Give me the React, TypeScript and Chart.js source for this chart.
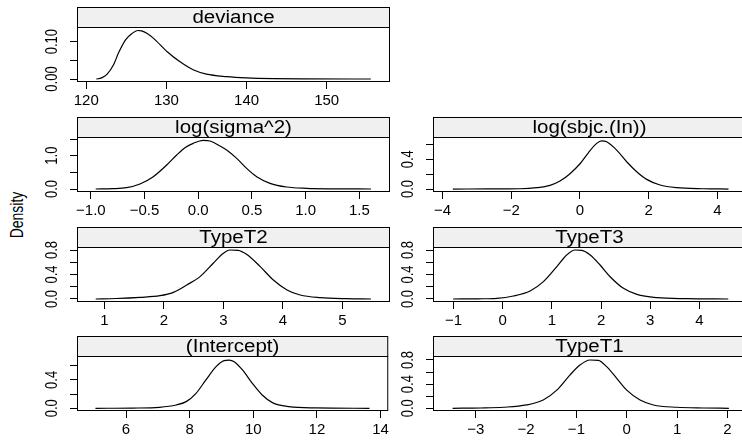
import { useEffect, useRef } from "react";
import { Chart, registerables } from "chart.js";

Chart.register(...registerables);

const FONT = '"Liberation Sans", Arial, Helvetica, sans-serif';

// ---- data ----
const devianceX = [121.25, 121.9, 122.6, 123.4, 124.0, 124.9, 125.7, 126.4, 126.9, 127.6, 128.4, 130.1, 131.7, 133.4, 135.0, 137.5, 140.0, 143.4, 147.0, 155.5];
const devianceY = [0, 0.003, 0.013, 0.038, 0.069, 0.105, 0.122, 0.130, 0.129, 0.122, 0.109, 0.073, 0.046, 0.024, 0.013, 0.0064, 0.003, 0.001, 0.0003, 0];

const logSigmaX = [-0.955, -0.8, -0.667, -0.543, -0.419, -0.294, -0.201, -0.124, -0.047, 0.047, 0.109, 0.202, 0.264, 0.358, 0.45, 0.544, 0.668, 0.823, 1.009, 1.257, 1.608];
const logSigmaY = [0, 0.01, 0.04, 0.15, 0.37, 0.72, 1.02, 1.24, 1.37, 1.46, 1.44, 1.29, 1.17, 0.92, 0.62, 0.37, 0.17, 0.06, 0.02, 0.005, 0];

const logSbjcX = [-3.7, -2.7, -1.746, -1.26, -0.873, -0.582, -0.291, 0, 0.243, 0.485, 0.63, 0.776, 1.067, 1.358, 1.65, 1.94, 2.33, 2.81, 3.59, 4.32];
const logSbjcY = [0, 0.001, 0.004, 0.018, 0.049, 0.107, 0.206, 0.34, 0.488, 0.614, 0.649, 0.636, 0.524, 0.367, 0.233, 0.13, 0.054, 0.018, 0.004, 0];

const typeT2X = [0.855, 1.2, 1.6, 1.936, 2.16, 2.385, 2.608, 2.83, 3.0, 3.11, 3.25, 3.39, 3.62, 3.84, 4.07, 4.29, 4.63, 5.07, 5.48];
const typeT2Y = [0, 0.008, 0.027, 0.054, 0.109, 0.229, 0.365, 0.583, 0.746, 0.8, 0.795, 0.729, 0.528, 0.31, 0.147, 0.065, 0.022, 0.005, 0];

const typeT3X = [-1.01, -0.5, -0.12, 0.216, 0.556, 0.827, 1.1, 1.3, 1.47, 1.61, 1.78, 1.98, 2.185, 2.456, 2.73, 3.14, 3.75, 4.59];
const typeT3Y = [0, 0.003, 0.011, 0.049, 0.131, 0.283, 0.528, 0.718, 0.8, 0.795, 0.718, 0.555, 0.364, 0.174, 0.076, 0.022, 0.005, 0];

const interceptX = [5.04, 6.2, 7.05, 7.575, 7.89, 8.2, 8.51, 8.83, 9.08, 9.24, 9.4, 9.66, 9.97, 10.28, 10.6, 11.12, 11.95, 13.65];
const interceptY = [0, 0.003, 0.014, 0.047, 0.094, 0.211, 0.4, 0.587, 0.671, 0.68, 0.657, 0.54, 0.352, 0.188, 0.08, 0.023, 0.005, 0];

const typeT1X = [-3.46, -2.9, -2.45, -1.99, -1.66, -1.39, -1.13, -0.93, -0.73, -0.565, -0.4, -0.2, 0, 0.265, 0.53, 0.994, 1.52, 2.03];
const typeT1Y = [0, 0.005, 0.017, 0.055, 0.137, 0.3, 0.55, 0.717, 0.8, 0.795, 0.69, 0.497, 0.3, 0.137, 0.055, 0.017, 0.005, 0];

// ---- tick values & labels ----
const devianceXTicks = [120, 130, 140, 150];
const devianceXLabels = ["120", "130", "140", "150"];
const devianceYTicks = [0, 0.05, 0.1];
const devianceYLabels = ["0.00", "", "0.10"];

const logSigmaXTicks = [-1, -0.5, 0, 0.5, 1, 1.5];
const logSigmaXLabels = ["\u22121.0", "\u22120.5", "0.0", "0.5", "1.0", "1.5"];
const logSigmaYTicks = [0, 0.5, 1, 1.5];
const logSigmaYLabels = ["0.0", "", "1.0", ""];

const logSbjcXTicks = [-4, -2, 0, 2, 4];
const logSbjcXLabels = ["\u22124", "\u22122", "0", "2", "4"];
const logSbjcYTicks = [0, 0.2, 0.4, 0.6];
const logSbjcYLabels = ["0.0", "", "0.4", ""];

const typeT2XTicks = [1, 2, 3, 4, 5];
const typeT2XLabels = ["1", "2", "3", "4", "5"];
const typeT3XTicks = [-1, 0, 1, 2, 3, 4];
const typeT3XLabels = ["\u22121", "0", "1", "2", "3", "4"];
const typeYTicks = [0, 0.2, 0.4, 0.6, 0.8];
const typeYLabels = ["0.0", "", "0.4", "", "0.8"];

const interceptXTicks = [6, 8, 10, 12, 14];
const interceptXLabels = ["6", "8", "10", "12", "14"];
const interceptYTicks = [0, 0.2, 0.4, 0.6];
const interceptYLabels = ["0.0", "", "0.4", ""];

const typeT1XTicks = [-3, -2, -1, 0, 1, 2];
const typeT1XLabels = ["\u22123", "\u22122", "\u22121", "0", "1", "2"];

const Y_LABEL = "Density";

// ---- layout ----
const COL_LEFT = [77, 433];
const COL_RIGHT = [390, 746];
const ROW_TOP = [27, 137, 247, 356];
const ROW_BOTTOM = [82, 192, 302, 411];
const STRIP_H = 20;
const Y_AXIS_W = 40;
const X_AXIS_H = 30;

type Panel = {
  title: string;
  col: number;
  row: number;
  x: number[];
  y: number[];
  xRange: [number, number];
  yRange: [number, number];
  xTicks: number[];
  xLabels: string[];
  yTicks: number[];
  yLabels: string[];
};

const PANELS: Panel[] = [
  { title: "deviance", col: 0, row: 0, x: devianceX, y: devianceY, xRange: [118.84, 157.9], yRange: [-0.008, 0.1394], xTicks: devianceXTicks, xLabels: devianceXLabels, yTicks: devianceYTicks, yLabels: devianceYLabels },
  { title: "log(sigma^2)", col: 0, row: 1, x: logSigmaX, y: logSigmaY, xRange: [-1.129, 1.785], yRange: [-0.09, 1.56], xTicks: logSigmaXTicks, xLabels: logSigmaXLabels, yTicks: logSigmaYTicks, yLabels: logSigmaYLabels },
  { title: "log(sbjc.(In))", col: 1, row: 1, x: logSbjcX, y: logSbjcY, xRange: [-4.277, 4.83], yRange: [-0.04, 0.7], xTicks: logSbjcXTicks, xLabels: logSbjcXLabels, yTicks: logSbjcYTicks, yLabels: logSbjcYLabels },
  { title: "TypeT2", col: 0, row: 2, x: typeT2X, y: typeT2Y, xRange: [0.541, 5.8], yRange: [-0.049, 0.849], xTicks: typeT2XTicks, xLabels: typeT2XLabels, yTicks: typeYTicks, yLabels: typeYLabels },
  { title: "TypeT3", col: 1, row: 2, x: typeT3X, y: typeT3Y, xRange: [-1.42, 4.95], yRange: [-0.049, 0.849], xTicks: typeT3XTicks, xLabels: typeT3XLabels, yTicks: typeYTicks, yLabels: typeYLabels },
  { title: "(Intercept)", col: 0, row: 3, x: interceptX, y: interceptY, xRange: [4.46, 14.24], yRange: [-0.038, 0.737], xTicks: interceptXTicks, xLabels: interceptXLabels, yTicks: interceptYTicks, yLabels: interceptYLabels },
  { title: "TypeT1", col: 1, row: 3, x: typeT1X, y: typeT1Y, xRange: [-3.85, 2.37], yRange: [-0.045, 0.866], xTicks: typeT1XTicks, xLabels: typeT1XLabels, yTicks: typeYTicks, yLabels: typeYLabels },
];

function PanelChart({ p, idx }: { p: Panel; idx: number }) {
  const ref = useRef<HTMLCanvasElement | null>(null);
  const plotL = COL_LEFT[p.col];
  const plotR = COL_RIGHT[p.col];
  const plotT = ROW_TOP[p.row];
  const plotB = ROW_BOTTOM[p.row];
  const left = plotL - Y_AXIS_W;
  const top = plotT - STRIP_H - 2;
  const width = plotR - plotL + Y_AXIS_W + 2;
  const height = plotB - plotT + STRIP_H + 2 + X_AXIS_H;

  useEffect(() => {
    if (!ref.current) return;
    const panelPlugin = {
      id: "panelDeco" + idx,
      afterDraw(chart: any) {
        const { ctx, chartArea: a } = chart;
        const st = a.top - STRIP_H;
        ctx.save();
        ctx.fillStyle = "#f0f0f0";
        ctx.fillRect(a.left, st, a.right - a.left, STRIP_H);
        ctx.strokeStyle = "#000";
        ctx.lineWidth = 1;
        ctx.strokeRect(a.left + 0.5, st + 0.5, a.right - a.left - 1, a.bottom - st - 1);
        ctx.beginPath();
        ctx.moveTo(a.left, a.top + 0.5);
        ctx.lineTo(a.right, a.top + 0.5);
        ctx.stroke();
        // strip title
        ctx.save();
        ctx.fillStyle = "#000";
        ctx.font = `18px ${FONT}`;
        ctx.textAlign = "center";
        ctx.textBaseline = "middle";
        ctx.translate((a.left + a.right) / 2, st + STRIP_H / 2 + 1);
        ctx.scale(1.14, 1);
        ctx.fillText(p.title, 0, 0);
        ctx.restore();
        // rotated y tick labels
        const ys = chart.scales.y;
        ctx.fillStyle = "#000";
        ctx.font = `13px ${FONT}`;
        ctx.textAlign = "center";
        ctx.textBaseline = "alphabetic";
        p.yTicks.forEach((v, i) => {
          const lab = p.yLabels[i];
          if (!lab) return;
          const py = ys.getPixelForValue(v);
          ctx.save();
          ctx.translate(a.left - 20, py);
          ctx.rotate(-Math.PI / 2);
          ctx.scale(1, 1.2);
          ctx.fillText(lab, 0, 0);
          ctx.restore();
        });
        ctx.restore();
      },
    };

    const chart = new Chart(ref.current, {
      type: "line",
      data: {
        datasets: [
          {
            data: p.x.map((x, i) => ({ x, y: p.y[i] })),
            borderColor: "#000",
            borderWidth: 1.2,
            pointRadius: 0,
            fill: false,
            cubicInterpolationMode: "monotone",
          },
        ],
      },
      options: {
        animation: false,
        responsive: false,
        events: [],
        layout: { padding: { top: STRIP_H + 2, left: 0, right: 2, bottom: 0 } },
        plugins: {
          legend: { display: false },
          tooltip: { enabled: false },
          title: { display: false },
        },
        scales: {
          x: {
            type: "linear",
            min: p.xRange[0],
            max: p.xRange[1],
            bounds: "data",
            afterBuildTicks: (s: any) => {
              s.ticks = p.xTicks.map((v) => ({ value: v }));
            },
            afterFit: (s: any) => {
              s.height = X_AXIS_H;
            },
            grid: { display: true, drawOnChartArea: false, drawTicks: true, tickLength: 7, color: "#000", lineWidth: 1 },
            border: { display: false },
            ticks: {
              autoSkip: false,
              maxRotation: 0,
              minRotation: 0,
              padding: 3,
              color: "#000",
              font: { family: FONT, size: 15 },
              callback: (_v: any, i: number) => p.xLabels[i],
            },
          },
          y: {
            type: "linear",
            min: p.yRange[0],
            max: p.yRange[1],
            bounds: "data",
            afterBuildTicks: (s: any) => {
              s.ticks = p.yTicks.map((v) => ({ value: v }));
            },
            afterFit: (s: any) => {
              s.width = Y_AXIS_W;
            },
            grid: { display: true, drawOnChartArea: false, drawTicks: true, tickLength: 7, color: "#000", lineWidth: 1 },
            border: { display: false },
            ticks: { display: false },
          },
        },
      },
      plugins: [panelPlugin],
    } as any);
    return () => chart.destroy();
  }, []);

  return (
    <canvas
      ref={ref}
      width={width}
      height={height}
      style={{ position: "absolute", left, top, width, height, display: "block" }}
    />
  );
}

export default function App() {
  return (
    <div
      style={{
        position: "absolute",
        left: 0,
        top: 0,
        width: 742,
        height: 446,
        overflow: "hidden",
        background: "#fff",
      }}
    >
      {PANELS.map((p, i) => (
        <PanelChart key={p.title} p={p} idx={i} />
      ))}
      <div
        style={{
          position: "absolute",
          left: 17,
          top: 215,
          transform: "translate(-50%, -50%) rotate(-90deg) scaleY(1.25)",
          fontFamily: FONT,
          fontSize: 14,
          whiteSpace: "nowrap",
          color: "#000",
          lineHeight: 1,
        }}
      >
        {Y_LABEL}
      </div>
    </div>
  );
}
